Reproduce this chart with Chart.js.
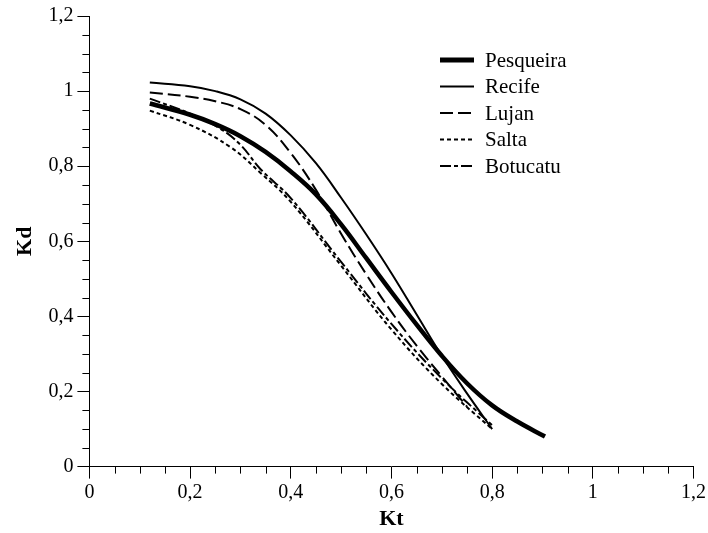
<!DOCTYPE html>
<html>
<head>
<meta charset="utf-8">
<script src="https://cdn.jsdelivr.net/npm/chart.js@4.4.1/dist/chart.umd.min.js"></script>
<style>
html,body{margin:0;padding:0;background:#fff;}
#wrap{position:relative;width:708px;height:533px;}
</style>
</head>
<body>
<div id="wrap"><canvas id="c" width="708" height="533"></canvas></div>
<script>
const seriesNames = ['Pesqueira','Recife','Lujan','Salta','Botucatu'];

const ktPesqueira = [0.12,0.2,0.25,0.3,0.35,0.4,0.45,0.5,0.55,0.6,0.65,0.7,0.75,0.8,0.85,0.905];
const kdPesqueira = [0.967,0.937,0.912,0.88,0.838,0.786,0.725,0.645,0.555,0.465,0.378,0.295,0.222,0.163,0.12,0.08];

const ktRecife = [0.12,0.2,0.25,0.3,0.35,0.4,0.45,0.5,0.55,0.6,0.65,0.7,0.75,0.8];
const kdRecife = [1.023,1.013,1.0,0.978,0.94,0.882,0.808,0.716,0.618,0.515,0.405,0.295,0.195,0.10];

const ktLujan = [0.12,0.2,0.25,0.3,0.35,0.4,0.45,0.5,0.55,0.6,0.65,0.7,0.75];
const kdLujan = [0.996,0.985,0.973,0.952,0.91,0.835,0.737,0.62,0.512,0.412,0.322,0.24,0.16];

const ktSalta = [0.12,0.2,0.28,0.34,0.4,0.5,0.6,0.7,0.8];
const kdSalta = [0.948,0.91,0.851,0.782,0.705,0.535,0.365,0.22,0.10];

const ktBotucatu = [0.12,0.2,0.26,0.3,0.34,0.4,0.5,0.6,0.7,0.8];
const kdBotucatu = [0.98,0.94,0.9,0.857,0.792,0.715,0.545,0.38,0.235,0.11];

const xTicks = [0,0.2,0.4,0.6,0.8,1,1.2];
const yTicks = [0,0.2,0.4,0.6,0.8,1,1.2];

const styles = [
  {w:4.5, dash:[]},
  {w:2, dash:[]},
  {w:2, dash:[13,5]},
  {w:2, dash:[4,3]},
  {w:2, dash:[11,3,4,3]}
];

function pts(xs, ys){ return xs.map((x,i)=>({x:x,y:ys[i]})); }
const allData = [pts(ktPesqueira,kdPesqueira),pts(ktRecife,kdRecife),pts(ktLujan,kdLujan),pts(ktSalta,kdSalta),pts(ktBotucatu,kdBotucatu)];

const FONT = "'Liberation Serif', 'Times New Roman', serif";
const fmt = v => { const r = Math.round(v*10)/10; return String(r).replace('.', ','); };

const minorTicks = {
  id:'minorTicks',
  afterDraw(chart){
    const ctx = chart.ctx;
    const xs = chart.scales.x, ys = chart.scales.y;
    ctx.save();
    ctx.strokeStyle = '#000';
    ctx.lineWidth = 1;
    ctx.beginPath();
    for(let i=0;i<=24;i++){
      if(i%4===0) continue;
      const v = i*0.05;
      const px = Math.round(xs.getPixelForValue(v))+0.5;
      ctx.moveTo(px, ys.bottom); ctx.lineTo(px, ys.bottom+7);
      const py = Math.round(ys.getPixelForValue(v))+0.5;
      ctx.moveTo(xs.left, py); ctx.lineTo(xs.left-7, py);
    }
    ctx.stroke();
    // legend
    const lx0 = 440, lx1 = 474, tx = 485;
    const rows = [60, 86.5, 113, 139.5, 166];
    ctx.font = "21px " + FONT;
    ctx.textBaseline = 'middle';
    ctx.fillStyle = '#000';
    seriesNames.forEach((n,i)=>{
      ctx.beginPath();
      ctx.lineWidth = i===0 ? 5 : 2;
      ctx.setLineDash(styles[i].dash);
      ctx.moveTo(lx0, rows[i]); ctx.lineTo(lx1, rows[i]);
      ctx.stroke();
      ctx.setLineDash([]);
      ctx.fillText(n, tx, rows[i]+1);
    });
    ctx.restore();
  }
};

new Chart(document.getElementById('c'), {
  type:'line',
  data:{
    datasets: seriesNames.map((n,i)=>({
      label:n,
      data: allData[i],
      borderColor:'#000',
      backgroundColor:'#000',
      borderWidth: styles[i].w,
      borderDash: styles[i].dash,
      pointRadius:0,
      fill:false,
      tension:0.4,
      cubicInterpolationMode:'default'
    }))
  },
  options:{
    responsive:false,
    animation:false,
    devicePixelRatio:1,
    layout:{padding:{top:10,right:0,left:12,bottom:0}},
    plugins:{legend:{display:false},tooltip:{enabled:false}},
    scales:{
      x:{
        type:'linear', min:0, max:1.2,
        afterBuildTicks: s => { s.ticks = xTicks.map(v=>({value:v})); },
        ticks:{ callback: v => fmt(v), color:'#000', font:{family:FONT,size:20}, padding:2, maxRotation:0 },
        grid:{ drawOnChartArea:false, drawTicks:true, tickLength:12, color:'#000', tickColor:'#000' },
        border:{ display:true, color:'#000', width:1 },
        title:{ display:true, text:'Kt', color:'#000', font:{family:FONT,size:22,weight:'bold'}, padding:{top:0,bottom:0} }
      },
      y:{
        type:'linear', min:0, max:1.2,
        afterBuildTicks: s => { s.ticks = yTicks.map(v=>({value:v})); },
        ticks:{ callback: v => fmt(v), color:'#000', font:{family:FONT,size:20}, padding:4 },
        grid:{ drawOnChartArea:false, drawTicks:true, tickLength:12, color:'#000', tickColor:'#000' },
        border:{ display:true, color:'#000', width:1 },
        title:{ display:true, text:'Kd', color:'#000', font:{family:FONT,size:22,weight:'bold'}, padding:{top:0,bottom:6} }
      }
    }
  },
  plugins:[minorTicks]
});
</script>
</body>
</html>
